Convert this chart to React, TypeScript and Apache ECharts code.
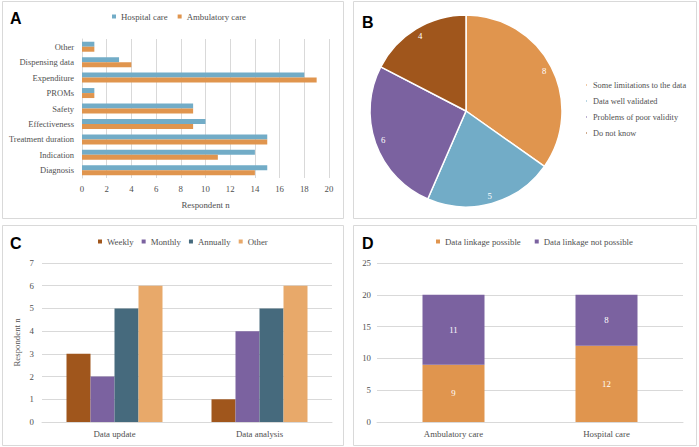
import React, { useEffect, useRef } from "react";
import * as echarts from "echarts";

const aCategories = ["Diagnosis", "Indication", "Treatment duration", "Effectiveness", "Safety", "PROMs", "Expenditure", "Dispensing data", "Other"];
const aHospital = [15, 14, 15, 10, 9, 1, 18, 3, 1];
const aAmbulatory = [14, 11, 15, 9, 9, 1, 19, 4, 1];

const bNames = ["Some limitations to the data", "Data well validated", "Problems of poor validity", "Do not know"];
const bValues = [8, 5, 6, 4];

const cCategories = ["Data update", "Data analysis"];
const cWeekly = [3, 1];
const cMonthly = [2, 4];
const cAnnually = [5, 5];
const cOther = [6, 6];

const dCategories = ["Ambulatory care", "Hospital care"];
const dPossible = [9, 12];
const dNotPossible = [11, 8];

const ORANGE = "#e0954e";
const BLUE = "#72acc7";
const PURPLE = "#7b62a0";
const BROWN = "#a0561c";
const TEAL = "#466a7d";
const LORANGE = "#e8a96a";
const GRID = "#d9d9d9";
const TXT = "#505050";
const SERIF = "'Liberation Serif', 'Times New Roman', serif";
const FS = 8.8;

export default function App() {
  const ref = useRef<HTMLDivElement>(null);
  useEffect(() => {
    if (!ref.current) return;
    const chart = echarts.init(ref.current, null, { renderer: "svg" });
    const axisLabel = { color: TXT, fontFamily: SERIF, fontSize: FS };
    const legendText = { color: TXT, fontFamily: SERIF, fontSize: FS };
    const letter = (t: string, x: number, y: number) => ({
      type: "text",
      left: x,
      top: y,
      style: { text: t, font: "bold 16px 'Liberation Sans', Arial, sans-serif", fill: "#000" },
    });
    const border = (x: number, y: number, w: number, h: number) => ({
      type: "rect",
      shape: { x, y, width: w, height: h },
      style: { fill: "none", stroke: GRID, lineWidth: 1 },
      silent: true,
    });
    chart.setOption({
      animation: false,
      backgroundColor: "#fff",
      textStyle: { fontFamily: SERIF },
      graphic: [
        border(2.5, 1.5, 341, 217),
        border(353.5, 1.5, 343, 217),
        border(2.5, 225.5, 341, 220),
        border(353.5, 225.5, 343, 220),
        letter("A", 10, 10),
        letter("B", 362, 14),
        letter("C", 10, 235),
        letter("D", 362, 235),
      ],
      legend: [
        {
          data: ["Hospital care", "Ambulatory care"],
          left: 112,
          top: 12,
          padding: 0,
          icon: "rect",
          itemWidth: 4,
          itemHeight: 4,
          itemGap: 10,
          textStyle: legendText,
        },
        {
          data: bNames,
          orient: "vertical",
          left: 584,
          top: 81,
          padding: 0,
          icon: "rect",
          itemWidth: 3,
          itemHeight: 3,
          itemGap: 8,
          textStyle: { ...legendText, fontSize: 8.3 },
        },
        {
          data: ["Weekly", "Monthly", "Annually", "Other"],
          left: 98,
          top: 237,
          padding: 0,
          icon: "rect",
          itemWidth: 4,
          itemHeight: 4,
          itemGap: 8,
          textStyle: legendText,
        },
        {
          data: ["Data linkage possible", "Data linkage not possible"],
          left: 436,
          top: 237,
          padding: 0,
          icon: "rect",
          itemWidth: 4,
          itemHeight: 4,
          itemGap: 14,
          textStyle: legendText,
        },
      ],
      grid: [
        { left: 82, right: 370, top: 39, bottom: 269 },
        { left: 42, right: 367, top: 263, bottom: 25 },
        { left: 377, right: 16, top: 263, bottom: 25 },
      ],
      xAxis: [
        {
          gridIndex: 0,
          type: "value",
          min: 0,
          max: 20,
          interval: 2,
          axisLine: { show: false },
          axisTick: { show: false },
          splitLine: { lineStyle: { color: GRID } },
          axisLabel: { ...axisLabel, margin: 6 },
          name: "Respondent n",
          nameLocation: "middle",
          nameGap: 22,
          nameTextStyle: { color: TXT, fontFamily: SERIF, fontSize: FS },
        },
        {
          gridIndex: 1,
          type: "category",
          data: cCategories,
          axisLine: { lineStyle: { color: GRID } },
          axisTick: { show: false },
          axisLabel: { ...axisLabel, margin: 7 },
        },
        {
          gridIndex: 2,
          type: "category",
          data: dCategories,
          axisLine: { lineStyle: { color: GRID } },
          axisTick: { show: false },
          axisLabel: { ...axisLabel, margin: 7 },
        },
      ],
      yAxis: [
        {
          gridIndex: 0,
          type: "category",
          data: aCategories,
          axisLine: { show: true, lineStyle: { color: GRID } },
          axisTick: { show: false },
          axisLabel: { ...axisLabel, fontSize: 8.5, margin: 8, interval: 0 },
        },
        {
          gridIndex: 1,
          type: "value",
          min: 0,
          max: 7,
          interval: 1,
          axisLine: { show: false },
          axisTick: { show: false },
          splitLine: { lineStyle: { color: GRID } },
          axisLabel: { ...axisLabel, margin: 8 },
          name: "Respondent n",
          nameLocation: "middle",
          nameGap: 21,
          nameTextStyle: { color: TXT, fontFamily: SERIF, fontSize: FS },
        },
        {
          gridIndex: 2,
          type: "value",
          min: 0,
          max: 25,
          interval: 5,
          axisLine: { show: false },
          axisTick: { show: false },
          splitLine: { lineStyle: { color: GRID } },
          axisLabel: { ...axisLabel, margin: 6 },
        },
      ],
      series: [
        {
          name: "Hospital care",
          type: "bar",
          xAxisIndex: 0,
          yAxisIndex: 0,
          data: aHospital,
          barWidth: 5,
          barGap: "0%",
          itemStyle: { color: BLUE },
        },
        {
          name: "Ambulatory care",
          type: "bar",
          xAxisIndex: 0,
          yAxisIndex: 0,
          data: aAmbulatory,
          barWidth: 5,
          barGap: "0%",
          itemStyle: { color: ORANGE },
        },
        {
          name: "B pie",
          type: "pie",
          center: [466, 111],
          radius: [0, 96],
          startAngle: 90,
          clockwise: true,
          data: bNames.map((n, i) => ({ name: n, value: bValues[i] })),
          color: [ORANGE, BLUE, PURPLE, BROWN],
          itemStyle: { borderColor: "#fff", borderWidth: 1.5 },
          label: { show: false },
          labelLine: { show: false },
        },
        {
          name: "B labels",
          type: "pie",
          center: [466, 111],
          radius: [74, 96],
          startAngle: 90,
          clockwise: true,
          silent: true,
          data: bNames.map((n, i) => ({ name: n, value: bValues[i] })),
          itemStyle: { color: "rgba(0,0,0,0)", borderWidth: 0 },
          label: {
            show: true,
            position: "inside",
            formatter: "{c}",
            color: "#fff",
            fontFamily: SERIF,
            fontSize: FS,
          },
          labelLine: { show: false },
        },
        ...[
          ["Weekly", cWeekly, BROWN],
          ["Monthly", cMonthly, PURPLE],
          ["Annually", cAnnually, TEAL],
          ["Other", cOther, LORANGE],
        ].map(([name, data, color]) => ({
          name,
          type: "bar",
          xAxisIndex: 1,
          yAxisIndex: 1,
          data,
          barWidth: 24,
          barGap: "0%",
          itemStyle: { color },
        })),
        {
          name: "Data linkage possible",
          type: "bar",
          stack: "d",
          xAxisIndex: 2,
          yAxisIndex: 2,
          data: dPossible,
          barWidth: 62,
          itemStyle: { color: ORANGE },
          label: { show: true, position: "inside", color: "#fff", fontFamily: SERIF, fontSize: FS },
        },
        {
          name: "Data linkage not possible",
          type: "bar",
          stack: "d",
          xAxisIndex: 2,
          yAxisIndex: 2,
          data: dNotPossible,
          barWidth: 62,
          itemStyle: { color: PURPLE },
          label: { show: true, position: "inside", color: "#fff", fontFamily: SERIF, fontSize: FS },
        },
      ],
    });
    return () => chart.dispose();
  }, []);
  return <div ref={ref} style={{ position: "absolute", left: 0, top: 0, width: 699, height: 447 }} />;
}
